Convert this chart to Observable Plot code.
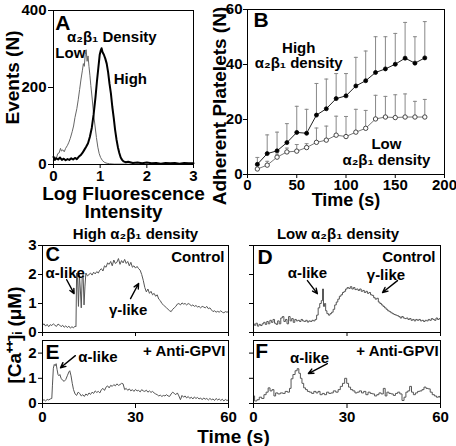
<!DOCTYPE html>
<html><head><meta charset="utf-8">
<script src="https://cdn.jsdelivr.net/npm/d3@7"></script>
<script src="https://cdn.jsdelivr.net/npm/@observablehq/plot@0.6"></script>
<style>
body{margin:0;background:#fff;}
#fig{position:relative;width:456px;height:446px;overflow:hidden;background:#fff;}
</style></head><body><div id="fig"></div>
<script>
// ---------- Panel A: flow cytometry histograms ----------
const aTicksX = [0, 1, 2, 3];
const aTicksY = [0, 200, 400];
const lowA = [[0,12],[0.03,20],[0.06,15],[0.09,28],[0.12,30],[0.15,42],[0.17,35],[0.2,38],[0.23,33],[0.26,42],[0.3,50],[0.33,58],[0.36,68],[0.4,85],[0.43,100],[0.46,122],[0.5,145],[0.53,168],[0.56,195],[0.59,222],[0.62,245],[0.64,262],[0.66,255],[0.68,285],[0.7,298],[0.72,268],[0.74,282],[0.76,255],[0.78,232],[0.8,205],[0.83,170],[0.86,130],[0.89,100],[0.92,70],[0.95,45],[0.98,28],[1.01,18],[1.05,10],[1.1,5],[1.15,3],[1.2,2],[1.3,1],[1.5,1],[2,0],[3,0]];
const highA = [[0,20],[0.03,12],[0.06,16],[0.1,13],[0.14,18],[0.18,12],[0.22,15],[0.26,11],[0.3,14],[0.34,12],[0.38,16],[0.42,13],[0.46,17],[0.5,14],[0.54,20],[0.58,24],[0.62,30],[0.66,38],[0.7,46],[0.74,55],[0.78,72],[0.82,95],[0.86,130],[0.9,175],[0.93,215],[0.96,250],[0.99,285],[1.01,295],[1.03,302],[1.05,292],[1.08,285],[1.11,275],[1.14,262],[1.17,240],[1.2,210],[1.23,185],[1.26,150],[1.29,122],[1.32,90],[1.35,65],[1.38,45],[1.41,30],[1.44,18],[1.47,12],[1.5,8],[1.55,6],[1.6,7],[1.7,4],[1.8,5],[1.9,3],[2.0,5],[2.1,3],[2.2,4],[2.3,2],[2.4,4],[2.5,3],[2.6,4],[2.7,2],[2.8,4],[2.9,3],[3.0,3]];
const annotA = [
  {text: "A", x: 0.04, y: 367, size: 21, anchor: "start"},
  {text: "α₂β₁ Density", x: 1.25, y: 330, size: 15, anchor: "middle"},
  {text: "Low", x: 0.04, y: 290, size: 15, anchor: "start"},
  {text: "High", x: 1.29, y: 222, size: 15, anchor: "start"}
];

// ---------- Panel B: adhesion time course ----------
const bTicksX = [0, 50, 100, 150, 200];
const bTicksY = [0, 20, 40, 60];
const times = [10,20,30,40,50,60,70,80,90,100,110,120,130,140,150,160,170,180];
const highMean = [3.7,7.6,8.6,11.6,15.3,15.0,21.6,23.9,27.6,28.6,32.2,34.1,37.1,38.4,40.1,42.3,40.5,42.4];
const highTop  = [6.2,14.4,15.4,18.5,24.8,23.7,33.1,34.7,36.7,36.7,42.6,44.9,50.1,50.1,51.3,55.3,50.1,55.6];
const lowMean  = [2.0,3.4,6.3,8.2,8.5,9.8,11.7,12.5,14.3,13.8,15.4,16.8,20.2,20.9,20.7,20.9,20.9,20.9];
const lowTop   = [3.2,4.8,7.4,9.6,10.9,11.2,16.9,17.6,21.2,21.1,23.7,23.3,28.8,28.4,29.0,29.3,26.6,27.3];
const annotB = [
  {text: "B", x: 6, y: 56.2, size: 21, anchor: "start"},
  {text: "High", x: 52, y: 46, size: 15, anchor: "middle"},
  {text: "α₂β₁ density", x: 52, y: 40.4, size: 15, anchor: "middle"},
  {text: "Low", x: 141, y: 10.9, size: 15, anchor: "middle"},
  {text: "α₂β₁ density", x: 141, y: 5.1, size: 15, anchor: "middle"}
];

// ---------- Panels C–F: calcium traces ----------
const tTicks = [0, 30, 60];
const caTicksTop = [0, 1, 2, 3];
const caTicksBottom = [0, 1, 2];
const traceC = [[0,0.25],[0.5,0.3],[1,0.22],[1.5,0.28],[2,0.2],[2.5,0.27],[3,0.24],[3.5,0.3],[4,0.25],[4.5,0.21],[5,0.29],[5.5,0.26],[6,0.2],[6.5,0.25],[7,0.18],[7.5,0.23],[8,0.17],[8.5,0.22],[9,0.15],[9.5,0.2],[10,0.16],[10.5,0.22],[10.8,0.2],[11,2.05],[11.3,1.9],[11.6,0.9],[11.9,2.0],[12.2,1.5],[12.5,0.85],[12.8,1.9],[13.1,2.0],[13.4,0.95],[13.7,1.6],[14,2.05],[14.5,1.95],[15,2.0],[15.5,2.05],[16,1.98],[16.5,2.08],[17,2.02],[17.5,2.1],[18,2.05],[18.5,2.15],[19,2.2],[19.5,2.12],[20,2.3],[20.5,2.25],[21,2.4],[21.5,2.35],[22,2.45],[22.5,2.3],[23,2.5],[23.5,2.38],[24,2.42],[24.5,2.55],[25,2.35],[25.5,2.48],[26,2.4],[26.5,2.52],[27,2.38],[27.5,2.45],[28,2.3],[28.5,2.42],[29,2.25],[29.5,2.3],[30,2.22],[30.5,2.28],[31,2.2],[31.5,2.15],[32,2.0],[32.5,1.8],[33,1.55],[33.5,1.4],[34,1.5],[34.5,1.35],[35,1.42],[35.5,1.3],[36,1.35],[36.5,1.25],[37,1.3],[37.5,1.15],[38,1.1],[38.5,1.0],[39,0.95],[39.5,0.9],[40,0.85],[40.5,0.8],[41,0.75],[41.5,0.72],[42,0.8],[42.5,0.85],[43,0.9],[43.5,0.98],[44,1.0],[44.5,0.95],[45,1.02],[45.5,0.98],[46,1.0],[46.5,0.95],[47,1.0],[47.5,0.97],[48,0.92],[48.5,0.95],[49,0.9],[49.5,0.93],[50,0.88],[50.5,0.9],[51,0.85],[51.5,0.9],[52,0.88],[52.5,0.85],[53,0.9],[53.5,0.82],[54,0.85],[54.5,0.78],[55,0.72],[55.5,0.75],[56,0.7],[56.5,0.73],[57,0.7],[57.5,0.75],[58,0.7],[58.5,0.68],[59,0.72],[59.5,0.7],[60,0.72]];
const traceD = [[0,0.3],[0.5,0.25],[1,0.32],[1.5,0.22],[2,0.28],[2.5,0.24],[3,0.3],[3.5,0.35],[4,0.28],[4.5,0.38],[5,0.3],[5.5,0.42],[6,0.35],[6.5,0.45],[7,0.32],[7.5,0.28],[8,0.4],[8.5,0.3],[9,0.5],[9.5,0.55],[10,0.38],[10.5,0.45],[11,0.3],[11.5,0.55],[12,0.4],[12.5,0.48],[13,0.35],[13.5,0.45],[14,0.4],[14.5,0.42],[15,0.38],[15.5,0.45],[16,0.4],[16.5,0.38],[17,0.42],[17.5,0.36],[18,0.4],[18.5,0.38],[19,0.42],[19.5,0.4],[20,0.45],[20.5,0.6],[21,0.85],[21.5,1.0],[22,1.1],[22.3,1.5],[22.6,0.9],[23,1.0],[23.3,0.75],[23.8,0.65],[24.3,0.6],[24.8,0.65],[25.3,0.7],[25.8,0.8],[26.3,0.95],[26.8,1.05],[27.3,1.15],[27.8,1.25],[28.3,1.3],[28.8,1.38],[29.3,1.42],[29.8,1.5],[30.3,1.55],[30.8,1.52],[31.3,1.58],[31.8,1.5],[32.3,1.55],[32.8,1.48],[33.3,1.5],[33.8,1.45],[34.3,1.5],[34.8,1.42],[35.3,1.45],[35.8,1.38],[36.3,1.42],[36.8,1.35],[37.3,1.38],[37.8,1.3],[38.3,1.28],[38.8,1.2],[39.3,1.15],[39.8,1.18],[40.3,1.05],[40.8,1.0],[41.3,0.95],[41.8,0.9],[42.3,0.85],[42.8,0.8],[43.3,0.75],[43.8,0.72],[44.3,0.68],[44.8,0.65],[45.3,0.62],[45.8,0.6],[46.3,0.58],[46.8,0.55],[47.3,0.5],[47.8,0.55],[48.3,0.5],[48.8,0.48],[49.3,0.5],[49.8,0.45],[50.3,0.48],[50.8,0.42],[51.3,0.45],[51.8,0.4],[52.3,0.45],[52.8,0.42],[53.3,0.45],[53.8,0.4],[54.3,0.42],[54.8,0.38],[55.3,0.42],[55.8,0.4],[56.3,0.45],[56.8,0.42],[57.3,0.48],[57.8,0.45],[58.3,0.42],[58.8,0.5],[59.3,0.45],[59.8,0.48]];
const traceE = [[0,0.12],[0.5,0.15],[1,0.1],[1.5,0.16],[2,0.14],[2.5,0.18],[3,0.2],[3.2,0.7],[3.5,1.4],[3.8,1.55],[4.1,1.5],[4.4,1.58],[4.7,1.35],[5,1.15],[5.3,1.1],[5.6,1.15],[6,1.0],[6.5,0.92],[7,0.88],[7.5,0.95],[8,1.1],[8.5,1.25],[8.8,1.3],[9.2,1.1],[9.6,0.8],[10,0.55],[10.5,0.38],[11,0.32],[11.5,0.45],[12,0.4],[12.5,0.3],[13,0.35],[13.5,0.28],[14,0.38],[14.5,0.32],[15,0.42],[15.5,0.36],[16,0.45],[16.5,0.4],[17,0.5],[17.5,0.44],[18,0.48],[18.5,0.42],[19,0.55],[19.5,0.6],[20,0.52],[20.5,0.65],[21,0.7],[21.5,0.62],[22,0.72],[22.5,0.68],[23,0.75],[23.5,0.7],[24,0.78],[24.5,0.72],[25,0.75],[25.5,0.8],[26,0.78],[26.5,0.55],[27,0.6],[27.5,0.52],[28,0.58],[28.5,0.5],[29,0.55],[29.5,0.48],[30,0.56],[30.5,0.5],[31,0.52],[31.5,0.46],[32,0.55],[32.5,0.5],[33,0.48],[33.5,0.53],[34,0.45],[34.5,0.5],[35,0.44],[35.5,0.48],[36,0.42],[36.5,0.38],[37,0.35],[37.5,0.3],[38,0.33],[38.5,0.28],[39,0.32],[39.5,0.3],[40,0.35],[40.5,0.3],[41,0.28],[41.5,0.38],[42,0.45],[42.5,0.4],[43,0.35],[43.5,0.42],[44,0.3],[44.5,0.15],[45,0.32],[45.5,0.25],[46,0.3],[46.5,0.22],[47,0.28],[47.5,0.2],[48,0.25],[48.5,0.18],[49,0.26],[49.5,0.2],[50,0.24],[50.5,0.18],[51,0.22],[51.5,0.15],[52,0.22],[52.5,0.17],[53,0.2],[53.5,0.14],[54,0.2],[54.5,0.15],[55,0.18],[55.5,0.12],[56,0.2],[56.5,0.14],[57,0.18],[57.5,0.12],[58,0.17],[58.5,0.1],[59,0.16],[59.5,0.12],[60,0.14]];
const traceF = [[0,0.3],[0.7,0.1],[1.5,0.15],[2.2,0.25],[3,0.2],[3.7,0.35],[4.4,0.45],[5,0.62],[5.6,0.5],[6.3,0.55],[6.8,0.3],[7.4,0.42],[8.2,0.38],[9,0.42],[9.8,0.4],[10.5,0.48],[11.3,0.45],[11.8,0.6],[12.3,0.98],[13,1.15],[13.7,1.3],[14.3,1.38],[14.8,1.2],[15.3,1.0],[15.8,0.8],[16.4,0.62],[17,0.55],[17.6,0.48],[18.3,0.45],[19,0.4],[19.7,0.48],[20.4,0.42],[21,0.48],[21.7,0.35],[22.4,0.4],[23.1,0.35],[23.8,0.45],[24.5,0.4],[25.2,0.42],[26,0.5],[26.8,0.45],[27.5,0.55],[28.2,0.68],[28.9,0.8],[29.6,1.0],[30.2,0.8],[30.8,0.65],[31.5,0.55],[32.2,0.5],[32.9,0.42],[33.6,0.45],[34.3,0.5],[35,0.42],[35.7,0.48],[36.4,0.35],[37.1,0.45],[37.8,0.4],[38.5,0.38],[39.2,0.3],[39.9,0.35],[40.6,0.42],[41.3,0.38],[42,0.6],[42.5,0.3],[43.1,0.45],[43.8,0.4],[44.5,0.38],[45.2,0.32],[45.9,0.4],[46.6,0.45],[47.3,0.38],[48,0.12],[48.6,0.25],[49.2,0.45],[49.8,0.5],[50.4,0.68],[51,0.45],[51.6,0.35],[52.3,0.42],[53,0.48],[53.7,0.5],[54.4,0.55],[55,0.65],[55.7,0.6],[56.4,0.58],[57,0.45],[57.7,0.35],[58.4,0.3],[59,0.25],[59.7,0.28],[60,0.22]];

const annotC = [
  {text: "C", x: 1, y: 2.68, size: 20, anchor: "start"},
  {text: "α-like", x: 1, y: 2.03, size: 15, anchor: "start"},
  {text: "Control", x: 58.7, y: 2.59, size: 15, anchor: "end"},
  {text: "γ-like", x: 27.6, y: 0.76, size: 15, anchor: "middle"}
];
const arrowsC = [{x1: 7.8, y1: 1.82, x2: 10.2, y2: 1.34}, {x1: 28.4, y1: 1.17, x2: 31, y2: 1.69}];
const annotD = [
  {text: "D", x: 1.3, y: 2.6, size: 21, anchor: "start"},
  {text: "Control", x: 58.4, y: 2.59, size: 15, anchor: "end"},
  {text: "α-like", x: 17.3, y: 2.03, size: 15, anchor: "middle"},
  {text: "γ-like", x: 42.5, y: 1.97, size: 15, anchor: "middle"}
];
const arrowsD = [{x1: 17.3, y1: 1.79, x2: 20.5, y2: 1.34}, {x1: 46.2, y1: 1.79, x2: 41.4, y2: 1.38}];
const annotE = [
  {text: "E", x: 1, y: 2.04, size: 21, anchor: "start"},
  {text: "α-like", x: 17.9, y: 1.82, size: 15, anchor: "middle"},
  {text: "+ Anti-GPVI", x: 59, y: 2.06, size: 15, anchor: "end"}
];
const arrowsE = [{x1: 10.6, y1: 1.9, x2: 5.8, y2: 1.42}];
const annotF = [
  {text: "F", x: 0.6, y: 2.07, size: 21, anchor: "start"},
  {text: "α-like", x: 18, y: 1.78, size: 15, anchor: "middle"},
  {text: "+ Anti-GPVI", x: 59.4, y: 2.07, size: 15, anchor: "end"}
];
const arrowsF = [{x1: 23.7, y1: 1.58, x2: 17.6, y2: 1.19}];

// ---------- helpers ----------
const FONT = "'Liberation Sans', Arial, Helvetica, sans-serif";
const fig = document.getElementById("fig");
function baseStyle() {
  return {fontFamily: FONT, fontSize: "15px", fontWeight: "bold", overflow: "visible", background: "transparent"};
}
function place(svg, left, top) {
  svg.style.position = "absolute";
  svg.style.left = left + "px";
  svg.style.top = top + "px";
  svg.style.maxWidth = "none";
  fig.appendChild(svg);
}
function annotations(list) {
  return list.map(a => Plot.text([a], {
    x: d => d.x, y: d => d.y, text: d => d.text,
    textAnchor: a.anchor, lineAnchor: "middle", fontSize: a.size, fill: "black"
  }));
}
function arrows(list) {
  return Plot.arrow(list, {x1: "x1", y1: "y1", x2: "x2", y2: "y2", stroke: "black", strokeWidth: 1.4, headLength: 6, headAngle: 50});
}
function sideLabel(text, dx, dy) {
  return Plot.text([text], {frameAnchor: "left", textAnchor: "middle", lineAnchor: "middle", rotate: -90, dx, dy, fontSize: 19});
}
const px = d => d[0], py = d => d[1];
const noLabel = () => "";

// ---------- Panel A ----------
place(Plot.plot({
  width: 200, height: 220, marginLeft: 53, marginTop: 10, marginRight: 7, marginBottom: 56,
  x: {domain: [0, 3]}, y: {domain: [0, 400]},
  style: baseStyle(),
  marks: [
    Plot.line(lowA, {x: px, y: py, stroke: "#666", strokeWidth: 1}),
    Plot.line(highA, {x: px, y: py, stroke: "#000", strokeWidth: 2}),
    Plot.frame({stroke: "#000"}),
    Plot.axisY(aTicksY, {tickSize: 5, tickPadding: 2, label: null}),
    Plot.axisX(aTicksX, {tickSize: 4, tickPadding: 2, label: null}),
    ...annotations(annotA),
    sideLabel("Events (N)", -41, -10),
    Plot.text(["Log Fluorescence"], {frameAnchor: "bottom", textAnchor: "middle", dy: 29, fontSize: 19, lineAnchor: "middle"}),
    Plot.text(["Intensity"], {frameAnchor: "bottom", textAnchor: "middle", dy: 47, fontSize: 19, lineAnchor: "middle"})
  ]
}), 0, 0);

// ---------- Panel B ----------
const bHigh = times.map((t, i) => ({t, m: highMean[i], top: highTop[i]}));
const bLow = times.map((t, i) => ({t, m: lowMean[i], top: lowTop[i]}));
place(Plot.plot({
  width: 256, height: 220, marginLeft: 47, marginTop: 9, marginRight: 12, marginBottom: 46,
  x: {domain: [0, 200]}, y: {domain: [0, 60]},
  style: baseStyle(),
  marks: [
    Plot.ruleX(bHigh, {x: "t", y1: "m", y2: "top", stroke: "#888", strokeWidth: 1}),
    Plot.link(bHigh, {x1: d => d.t - 2, x2: d => d.t + 2, y1: "top", y2: "top", stroke: "#888"}),
    Plot.ruleX(bLow, {x: "t", y1: "m", y2: "top", stroke: "#888", strokeWidth: 1}),
    Plot.link(bLow, {x1: d => d.t - 2, x2: d => d.t + 2, y1: "top", y2: "top", stroke: "#888"}),
    Plot.line(bHigh, {x: "t", y: "m", stroke: "#222", strokeWidth: 1}),
    Plot.line(bLow, {x: "t", y: "m", stroke: "#777", strokeWidth: 1}),
    Plot.dot(bHigh, {x: "t", y: "m", r: 2, fill: "black", stroke: "black", strokeWidth: 0.8}),
    Plot.dot(bLow, {x: "t", y: "m", r: 2.2, fill: "white", stroke: "#333", strokeWidth: 0.9}),
    Plot.frame({stroke: "#000"}),
    Plot.axisY(bTicksY, {tickSize: 4, tickPadding: 1, label: null}),
    Plot.axisX(bTicksX, {tickSize: 4, tickPadding: 1, label: null}),
    ...annotations(annotB),
    sideLabel("Adherent Platelets (N)", -28, 14),
    Plot.text(["Time (s)"], {frameAnchor: "bottom", textAnchor: "middle", dy: 26, fontSize: 18, lineAnchor: "middle"})
  ]
}), 200, 0);

// ---------- Panel C ----------
place(Plot.plot({
  width: 235, height: 112, marginLeft: 42, marginTop: 20, marginRight: 7, marginBottom: 5,
  x: {domain: [0, 60]}, y: {domain: [0, 3]},
  style: baseStyle(),
  marks: [
    Plot.line(traceC, {x: px, y: py, stroke: "#555", strokeWidth: 1}),
    Plot.frame({stroke: "#000"}),
    Plot.axisY(caTicksTop, {tickSize: 4, tickPadding: 2, label: null}),
    Plot.axisX(tTicks, {tickSize: 4, tickFormat: noLabel, label: null}),
    arrows(arrowsC),
    ...annotations(annotC),
    Plot.text(["High α₂β₁ density"], {frameAnchor: "top", textAnchor: "middle", dy: -11, fontSize: 15, lineAnchor: "middle"}),
    sideLabel("[Ca⁺⁺]ᵢ (μM)", -28, 46)
  ]
}), 0, 225);

// ---------- Panel D ----------
place(Plot.plot({
  width: 221, height: 112, marginLeft: 18, marginTop: 20, marginRight: 16, marginBottom: 5,
  x: {domain: [0, 60]}, y: {domain: [0, 3]},
  style: baseStyle(),
  marks: [
    Plot.line(traceD, {x: px, y: py, stroke: "#555", strokeWidth: 1, curve: "step"}),
    Plot.frame({stroke: "#000"}),
    Plot.axisY(caTicksTop, {tickSize: 4, tickFormat: noLabel, label: null}),
    Plot.axisX(tTicks, {tickSize: 4, tickFormat: noLabel, label: null}),
    arrows(arrowsD),
    ...annotations(annotD),
    Plot.text(["Low α₂β₁ density"], {frameAnchor: "top", textAnchor: "middle", dx: -9, dy: -11, fontSize: 15, lineAnchor: "middle"})
  ]
}), 235, 225);

// ---------- Panel E ----------
place(Plot.plot({
  width: 235, height: 111, marginLeft: 42, marginTop: 5, marginRight: 7, marginBottom: 43,
  x: {domain: [0, 60]}, y: {domain: [0, 2.5]},
  style: baseStyle(),
  marks: [
    Plot.line(traceE, {x: px, y: py, stroke: "#555", strokeWidth: 1}),
    Plot.frame({stroke: "#000"}),
    Plot.axisY(caTicksBottom, {tickSize: 4, tickPadding: 2, label: null}),
    Plot.axisX(tTicks, {tickSize: 5, tickPadding: 3, label: null}),
    arrows(arrowsE),
    ...annotations(annotE),
    Plot.text(["Time (s)"], {frameAnchor: "bottom", textAnchor: "middle", dx: 98, dy: 33, fontSize: 19, lineAnchor: "middle"})
  ]
}), 0, 335);

// ---------- Panel F ----------
place(Plot.plot({
  width: 221, height: 111, marginLeft: 18, marginTop: 5, marginRight: 16, marginBottom: 43,
  x: {domain: [0, 60]}, y: {domain: [0, 2.5]},
  style: baseStyle(),
  marks: [
    Plot.line(traceF, {x: px, y: py, stroke: "#555", strokeWidth: 1, curve: "step"}),
    Plot.frame({stroke: "#000"}),
    Plot.axisY(caTicksBottom, {tickSize: 4, tickFormat: noLabel, label: null}),
    Plot.axisX(tTicks, {tickSize: 5, tickPadding: 3, label: null}),
    arrows(arrowsF),
    ...annotations(annotF)
  ]
}), 235, 335);
</script></body></html>
